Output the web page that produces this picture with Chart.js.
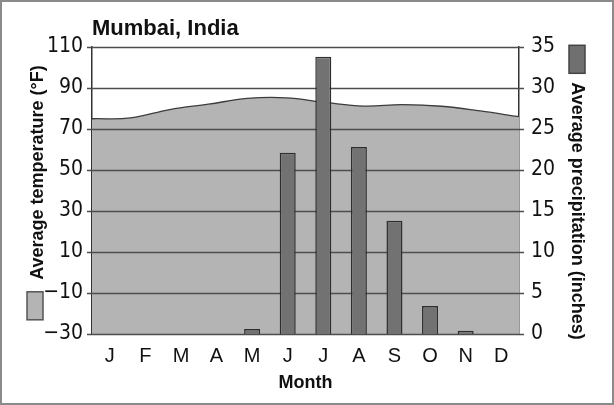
<!DOCTYPE html>
<html>
<head>
<meta charset="utf-8">
<script src="https://cdn.jsdelivr.net/npm/chart.js@4.4.1/dist/chart.umd.min.js"></script>
<style>
  html, body { margin: 0; padding: 0; background: #fff; }
  #wrap { width: 614px; height: 405px; }
</style>
</head>
<body>
<div id="wrap"><canvas id="chart" width="614" height="405"></canvas></div>
<script>
// Mumbai climate: temperature area + precipitation bars
const months = ['J', 'F', 'M', 'A', 'M', 'J', 'J', 'A', 'S', 'O', 'N', 'D'];
const tempF = [75, 75.4, 79.5, 82.1, 84.9, 85.2, 83, 81.2, 81.9, 81.1, 78.8, 76];
const precipIn = [0, 0, 0, 0, 0.6, 22.1, 33.8, 22.8, 13.8, 3.4, 0.4, 0];
const tempTicks = { min: -30, max: 110, step: 20 };
const precipTicks = { min: 0, max: 35, step: 5 };

const numFont = '"Liberation Sans Narrow", "DejaVu Sans Condensed", sans-serif';
const textFont = '"Liberation Sans", Arial, sans-serif';
const minus = v => String(v).replace('-', '\u2212');

// horizontal grid lines drawn over the area but under the bars
const gridPlugin = {
    id: 'gridOverArea',
    afterDatasetDraw(chart, args) {
        if (args.index !== 0) return;
        const { ctx, chartArea } = chart;
        const y = chart.scales.y;
        ctx.save();
        ctx.strokeStyle = '#4d4d4d';
        ctx.lineWidth = 1.3;
        y.ticks.forEach(t => {
            const py = Math.round(y.getPixelForValue(t.value)) + 0.5;
            ctx.beginPath();
            ctx.moveTo(chartArea.left - 5, py);
            ctx.lineTo(chartArea.right + 5, py);
            ctx.stroke();
        });
        ctx.restore();
    }
};

// legend swatches + rotated axis titles, and the outer frame
const sidePlugin = {
    id: 'sideTitles',
    afterDraw(chart) {
        const { ctx, chartArea } = chart;
        const cy = (chartArea.top + chartArea.bottom) / 2 + 2;
        ctx.save();
        ctx.font = 'bold 18px ' + textFont;
        ctx.fillStyle = '#111';
        ctx.textBaseline = 'alphabetic';

        // left: swatch at bottom, text reading upwards
        const leftText = 'Average temperature (\u00b0F)';
        let tw = ctx.measureText(leftText).width;
        let len = 28 + 12 + tw;
        let oy = cy + len / 2;
        ctx.fillStyle = '#b4b4b4';
        ctx.strokeStyle = '#555';
        ctx.lineWidth = 1.5;
        ctx.fillRect(27, oy - 28, 16, 28);
        ctx.strokeRect(27, oy - 28, 16, 28);
        ctx.save();
        ctx.translate(43, oy - 40);
        ctx.rotate(-Math.PI / 2);
        ctx.fillStyle = '#111';
        ctx.fillText(leftText, 0, 0);
        ctx.restore();

        // right: swatch at top, text reading downwards
        const rightText = 'Average precipitation (inches)';
        tw = ctx.measureText(rightText).width;
        len = 28 + 9 + tw;
        oy = cy - len / 2;
        ctx.fillStyle = '#707070';
        ctx.strokeStyle = '#444';
        ctx.fillRect(569, oy, 16, 28);
        ctx.strokeRect(569, oy, 16, 28);
        ctx.save();
        ctx.translate(572, oy + 37);
        ctx.rotate(Math.PI / 2);
        ctx.fillStyle = '#111';
        ctx.fillText(rightText, 0, 0);
        ctx.restore();

        ctx.strokeStyle = '#8a8a8a';
        ctx.lineWidth = 2;
        ctx.strokeRect(1, 1, chart.width - 2, chart.height - 2);
        ctx.restore();
    }
};

new Chart(document.getElementById('chart'), {
    type: 'bar',
    data: {
        labels: months,
        datasets: [{
            type: 'line',
            label: 'Average temperature (°F)',
            data: tempF,
            xAxisID: 'x2',
            yAxisID: 'y',
            borderColor: '#3c3c3c',
            borderWidth: 1.3,
            backgroundColor: '#b4b4b4',
            fill: 'start',
            tension: 0.4,
            pointRadius: 0,
            order: 2
        }, {
            type: 'bar',
            label: 'Average precipitation (inches)',
            data: precipIn,
            xAxisID: 'x',
            yAxisID: 'y2',
            backgroundColor: '#727272',
            borderColor: '#2e2e2e',
            borderWidth: 1.5,
            grouped: false,
            categoryPercentage: 1,
            barPercentage: 0.45,
            order: 1
        }]
    },
    options: {
        responsive: false,
        animation: false,
        layout: { padding: 0 },
        plugins: {
            legend: { display: false },
            tooltip: { enabled: false },
            title: {
                display: true,
                text: 'Mumbai, India',
                align: 'start',
                fullSize: false,
                color: '#111',
                font: { family: textFont, size: 22, weight: 'bold' },
                padding: { top: 16, bottom: 4.6 }
            }
        },
        scales: {
            x: {
                type: 'category',
                offset: true,
                grid: { display: false, drawTicks: false },
                border: { display: false },
                ticks: { color: '#111', padding: 10, font: { family: textFont, size: 20 } },
                title: {
                    display: true,
                    text: 'Month',
                    color: '#111',
                    font: { family: textFont, size: 18, weight: 'bold' },
                    padding: { top: 0, bottom: 11 }
                },
                afterFit: s => { s.height = 71; }
            },
            x2: {
                type: 'category',
                labels: months,
                offset: false,
                display: false
            },
            y: {
                position: 'left',
                min: tempTicks.min,
                max: tempTicks.max,
                z: 1,
                ticks: {
                    stepSize: tempTicks.step,
                    padding: 9,
                    color: '#111',
                    font: { family: numFont, size: 21 },
                    callback: v => minus(v)
                },
                grid: { display: false, drawTicks: false },
                border: { display: true, color: '#333', width: 1.5 },
                afterFit: s => { s.width = 92; }
            },
            y2: {
                position: 'right',
                min: precipTicks.min,
                max: precipTicks.max,
                z: 1,
                ticks: {
                    stepSize: precipTicks.step,
                    padding: 12,
                    color: '#111',
                    font: { family: numFont, size: 21 }
                },
                grid: { display: false, drawTicks: false },
                border: { display: true, color: '#333', width: 1.5 },
                afterFit: s => { s.width = 95; }
            }
        }
    },
    plugins: [gridPlugin, sidePlugin]
});
</script>
</body>
</html>
